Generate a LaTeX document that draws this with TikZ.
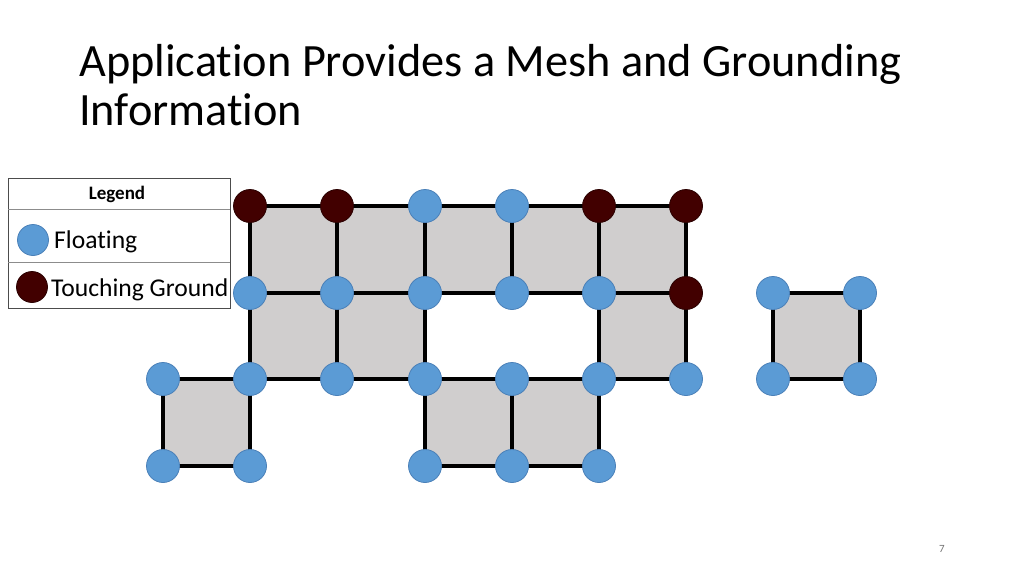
\documentclass[tikz,border=0pt]{standalone}
\usepackage{fontspec}
\setmainfont[Ligatures=NoCommon]{Carlito}
\definecolor{cellgray}{HTML}{D0CECE}
\definecolor{floatblue}{HTML}{5B9BD5}
\definecolor{floatedge}{HTML}{4A80B8}
\definecolor{grounddark}{HTML}{420000}
\definecolor{groundedge}{HTML}{2A0000}
\begin{document}
\begin{tikzpicture}[x=1pt,y=-1pt,
  fl/.style={circle,fill=floatblue,draw=floatedge,line width=0.8pt,minimum size=33pt,inner sep=0pt},
  gr/.style={circle,fill=grounddark,draw=groundedge,line width=0.8pt,minimum size=33pt,inner sep=0pt},
  lfl/.style={circle,fill=floatblue,draw=floatedge,line width=0.8pt,minimum size=31pt,inner sep=0pt},
  lgr/.style={circle,fill=grounddark,draw=groundedge,line width=0.8pt,minimum size=31pt,inner sep=0pt},
  edge/.style={line width=4pt,black},
  cell/.style={fill=cellgray},
  legbox/.style={draw=black!70,line width=0.8pt},
  legline/.style={draw=black!45,line width=0.6pt}]
\useasboundingbox (0,0) rectangle (1024,576);
% title
\node[anchor=base west,inner sep=0pt,font=\fontsize{46.3}{55}\selectfont] (t1) at (79,76) {Application Provides a Mesh and Grounding};
\node[anchor=base west,inner sep=0pt,font=\fontsize{46.3}{55}\selectfont] (t2) at (79,125) {Information};
\node[font=\fontsize{11}{13}\selectfont,text=black!55] (pg) at (942,549) {7};
% coordinates
\foreach \n/\x/\y in {
  a1/250/206,a2/337/206,a3/425/206,a4/512/206,a5/599/206,a6/686/206,
  b1/250/293,b2/337/293,b3/425/293,b4/512/293,b5/599/293,b6/686/293,b7/773/293,b8/860/293,
  c0/163/379,c1/250/379,c2/337/379,c3/425/379,c4/512/379,c5/599/379,c6/686/379,c7/773/379,c8/860/379,
  d0/163/466,d1/250/466,d3/425/466,d4/512/466,d5/599/466}
  \coordinate (\n) at (\x,\y);
% cells
\fill[cell] (a1) rectangle (b6);
\fill[cell] (b1) rectangle (c3);
\fill[cell] (b5) rectangle (c6);
\fill[cell] (b7) rectangle (c8);
\fill[cell] (c0) rectangle (d1);
\fill[cell] (c3) rectangle (d5);
% edges
\draw[edge] (a1) -- (a2) -- (a3) -- (a4) -- (a5) -- (a6);
\draw[edge] (b1) -- (b2) -- (b3) -- (b4) -- (b5) -- (b6);
\draw[edge] (b7) -- (b8);
\draw[edge] (c0) -- (c1) -- (c2) -- (c3) -- (c4) -- (c5) -- (c6);
\draw[edge] (c7) -- (c8);
\draw[edge] (d0) -- (d1);
\draw[edge] (d3) -- (d4) -- (d5);
\draw[edge] (c0) -- (d0);
\draw[edge] (a1) -- (b1) -- (c1) -- (d1);
\draw[edge] (a2) -- (b2) -- (c2);
\draw[edge] (a3) -- (b3) -- (c3) -- (d3);
\draw[edge] (a4) -- (b4);
\draw[edge] (c4) -- (d4);
\draw[edge] (a5) -- (b5) -- (c5) -- (d5);
\draw[edge] (a6) -- (b6) -- (c6);
\draw[edge] (b7) -- (c7);
\draw[edge] (b8) -- (c8);
% nodes
\foreach \n in {a1,a2,a5,a6,b6} \node[gr] (n\n) at (\n) {};
\foreach \n in {a3,a4,b1,b2,b3,b4,b5,b7,b8,c0,c1,c2,c3,c4,c5,c6,c7,c8,d0,d1,d3,d4,d5} \node[fl] (n\n) at (\n) {};
% legend
\draw[legbox] (8,178) rectangle (230,308);
\draw[legline] (8,209) -- (230,209);
\draw[legline] (8,262) -- (230,262);
\node[font=\fontsize{19}{22}\selectfont\bfseries] (lt) at (117,194) {Legend};
\node[lfl] (lf) at (33,240) {};
\node[lgr] (lg) at (32,287) {};
\node[anchor=base west,inner sep=0pt,font=\fontsize{25.6}{31}\selectfont] (lft) at (54,248) {Floating};
\node[anchor=base west,inner sep=0pt,font=\fontsize{25.6}{31}\selectfont] (lgt) at (51,296) {Touching Ground};
\end{tikzpicture}
\end{document}
